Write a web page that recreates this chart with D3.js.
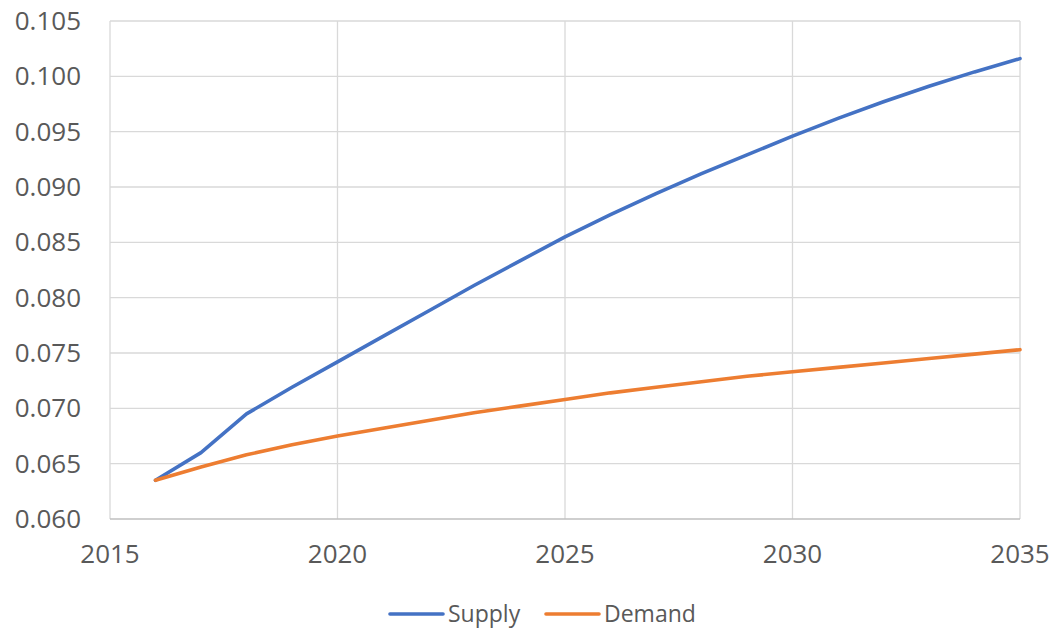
<!DOCTYPE html>
<html>
<head>
<meta charset="utf-8">
<script src="https://cdn.jsdelivr.net/npm/d3@7"></script>
<style>
  body { margin: 0; background: #fff; }
  text { font-family: "Open Sans", "Liberation Sans", sans-serif; fill: #595959; }
</style>
</head>
<body>
<svg id="chart" width="1053" height="628"></svg>
<script>
const years = [2016, 2017, 2018, 2019, 2020, 2021, 2022, 2023, 2024, 2025,
  2026, 2027, 2028, 2029, 2030, 2031, 2032, 2033, 2034, 2035];
const supply = [0.0635, 0.0660, 0.0695, 0.0719, 0.0742, 0.0765, 0.0788, 0.0811, 0.0833, 0.0855,
  0.0875, 0.0894, 0.0912, 0.0929, 0.0946, 0.0962, 0.0977, 0.0991, 0.1004, 0.1016];
const demand = [0.0635, 0.0647, 0.0658, 0.0667, 0.0675, 0.0682, 0.0689, 0.0696, 0.0702, 0.0708,
  0.0714, 0.0719, 0.0724, 0.0729, 0.0733, 0.0737, 0.0741, 0.0745, 0.0749, 0.0753];
const xTicks = [2015, 2020, 2025, 2030, 2035];
const yTicks = [0.060, 0.065, 0.070, 0.075, 0.080, 0.085, 0.090, 0.095, 0.100, 0.105];
const seriesNames = ['Supply', 'Demand'];
const colors = ['#4472c4', '#ed7d31'];

const svg = d3.select('#chart');
const plot = { left: 110, right: 1020, top: 21, bottom: 519 };

const x = d3.scaleLinear().domain([2015, 2035]).range([plot.left, plot.right]);
const y = d3.scaleLinear().domain([0.060, 0.105]).range([plot.bottom, plot.top]);

// grid
svg.append('g')
  .selectAll('line')
  .data(yTicks.slice(1))
  .join('line')
  .attr('x1', plot.left).attr('x2', plot.right)
  .attr('y1', d => y(d)).attr('y2', d => y(d))
  .attr('stroke', '#d9d9d9').attr('stroke-width', 1.3);

svg.append('g')
  .selectAll('line')
  .data(xTicks)
  .join('line')
  .attr('x1', d => x(d)).attr('x2', d => x(d))
  .attr('y1', plot.top).attr('y2', plot.bottom)
  .attr('stroke', '#d9d9d9').attr('stroke-width', 1.3);

// bottom axis line
svg.append('line')
  .attr('x1', plot.left).attr('x2', plot.right)
  .attr('y1', plot.bottom).attr('y2', plot.bottom)
  .attr('stroke', '#bfbfbf').attr('stroke-width', 1.5);

// tick labels
svg.append('g')
  .selectAll('text')
  .data(yTicks)
  .join('text')
  .attr('x', 81)
  .attr('y', d => y(d) + 9)
  .attr('text-anchor', 'end')
  .attr('font-size', '26px')
  .text(d => d3.format('.3f')(d));

svg.append('g')
  .selectAll('text')
  .data(xTicks)
  .join('text')
  .attr('x', d => x(d))
  .attr('y', 563)
  .attr('text-anchor', 'middle')
  .attr('font-size', '26px')
  .text(d => d);

// lines
const line = d3.line()
  .x((d, i) => x(years[i]))
  .y(d => y(d));

[supply, demand].forEach((s, i) => {
  svg.append('path')
    .datum(s)
    .attr('fill', 'none')
    .attr('stroke', colors[i])
    .attr('stroke-width', 3.6)
    .attr('stroke-linejoin', 'round')
    .attr('stroke-linecap', 'round')
    .attr('d', line);
});

// legend
const legendX = [390, 546];
const legend = svg.append('g')
  .selectAll('g')
  .data(seriesNames)
  .join('g')
  .attr('transform', (d, i) => 'translate(' + legendX[i] + ', 614)');

legend.append('line')
  .attr('x1', 0).attr('x2', 53)
  .attr('y1', 0).attr('y2', 0)
  .attr('stroke', (d, i) => colors[i])
  .attr('stroke-width', 3.6)
  .attr('stroke-linecap', 'round');

legend.append('text')
  .attr('x', 58)
  .attr('y', 8)
  .attr('font-size', '23px')
  .text(d => d);
</script>
</body>
</html>
